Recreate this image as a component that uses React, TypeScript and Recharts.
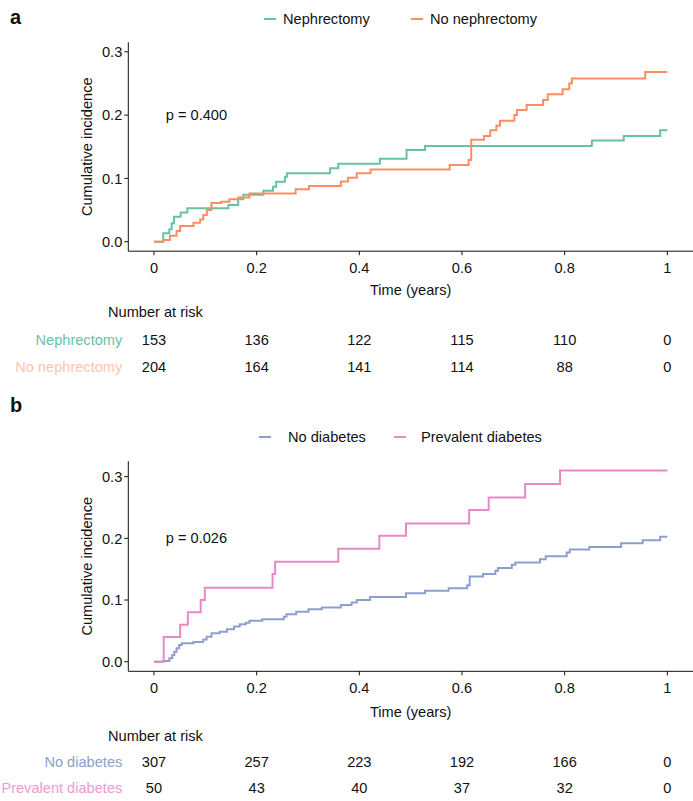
import React from "react";
import { LineChart, Line, XAxis, YAxis, ReferenceDot, ScatterChart, Scatter } from "recharts";

// ---- data ----
const timeTicks = [0, 0.2, 0.4, 0.6, 0.8, 1];
const incidenceTicks = [0, 0.1, 0.2, 0.3];

// [time, cumulative incidence] step points
const nephrectomy = [
  [0, 0], [0.018, 0.0133], [0.03, 0.0196], [0.0345, 0.029], [0.039, 0.0396], [0.052, 0.046],
  [0.065, 0.053], [0.145, 0.058], [0.164, 0.067], [0.174, 0.074], [0.213, 0.0806], [0.232, 0.087],
  [0.238, 0.0948], [0.255, 0.1027], [0.259, 0.108], [0.343, 0.116], [0.359, 0.123], [0.44, 0.131],
  [0.492, 0.145], [0.528, 0.151], [0.853, 0.16], [0.915, 0.167], [0.986, 0.176], [1, 0.176],
];
const noNephrectomy = [
  [0, 0], [0.018, 0.0028], [0.031, 0.0095], [0.044, 0.017], [0.051, 0.025], [0.077, 0.03],
  [0.09, 0.035], [0.096, 0.042], [0.103, 0.05], [0.112, 0.061], [0.131, 0.063], [0.147, 0.067],
  [0.164, 0.07], [0.186, 0.076], [0.276, 0.083], [0.302, 0.088], [0.364, 0.095], [0.378, 0.101],
  [0.395, 0.108], [0.422, 0.114], [0.576, 0.121], [0.613, 0.129], [0.618, 0.161], [0.643, 0.167],
  [0.655, 0.176], [0.667, 0.183], [0.674, 0.191], [0.702, 0.2], [0.707, 0.208], [0.726, 0.216],
  [0.758, 0.224], [0.767, 0.233], [0.796, 0.241], [0.809, 0.25], [0.814, 0.258], [0.957, 0.268],
  [1, 0.268],
];
const noDiabetes = [
  [0, 0], [0.017, 0.001], [0.03, 0.0055], [0.0357, 0.011], [0.0396, 0.016], [0.044, 0.0217],
  [0.049, 0.027], [0.054, 0.03], [0.077, 0.032], [0.096, 0.036], [0.1026, 0.0405], [0.112, 0.046],
  [0.128, 0.0486], [0.142, 0.0525], [0.156, 0.057], [0.167, 0.0606], [0.179, 0.063], [0.186, 0.0665],
  [0.211, 0.069], [0.253, 0.073], [0.258, 0.077], [0.277, 0.081], [0.301, 0.085], [0.327, 0.088],
  [0.364, 0.092], [0.385, 0.096], [0.395, 0.1], [0.421, 0.105], [0.491, 0.111], [0.528, 0.115],
  [0.574, 0.119], [0.61, 0.124], [0.615, 0.138], [0.641, 0.142], [0.665, 0.1475], [0.67, 0.152],
  [0.697, 0.157], [0.704, 0.161], [0.752, 0.166], [0.763, 0.171], [0.804, 0.177], [0.81, 0.182],
  [0.848, 0.186], [0.91, 0.192], [0.952, 0.197], [0.986, 0.2026], [1, 0.2026],
];
const prevalentDiabetes = [
  [0, 0], [0.019, 0.04], [0.051, 0.06], [0.066, 0.08], [0.091, 0.1], [0.099, 0.12],
  [0.231, 0.142], [0.236, 0.162], [0.359, 0.183], [0.439, 0.204], [0.491, 0.224], [0.614, 0.246],
  [0.652, 0.266], [0.723, 0.288], [0.791, 0.31], [1, 0.31],
];

// number at risk
const riskTimes = [0, 0.2, 0.4, 0.6, 0.8, 1];
const riskNephrectomy = [153, 136, 122, 115, 110, 0];
const riskNoNephrectomy = [204, 164, 141, 114, 88, 0];
const riskNoDiabetes = [307, 257, 223, 192, 166, 0];
const riskPrevalentDiabetes = [50, 43, 40, 37, 32, 0];

const pValueA = "p = 0.400";
const pValueB = "p = 0.026";

// ---- styling ----
const FONT = "'Liberation Sans', Arial, Helvetica, sans-serif";
const FS = 14.6;
const GREEN = "#66C2A5";
const ORANGE = "#FC8D62";
const BLUE = "#8DA0CB";
const PINK = "#E78AC3";
const INK = "#111";
const W = 693;
const AXIS_W = 128.3;
const X_DOMAIN: [number, number] = [-0.05, 1.05];

const toPts = (arr: number[][]) => arr.map(([t, v]) => ({ t, v }));

function Legend({ top, items }: { top: number; items: { name: string; color: string; sx: number; tx: number }[] }) {
  return (
    <>
      {items.map((it) => (
        <React.Fragment key={it.name}>
          <div style={{ position: "absolute", left: it.sx, top: top - 1, width: 12, height: 2, background: it.color }} />
          <div style={{ position: "absolute", left: it.tx, top: top - 10, height: 20, lineHeight: "20px", fontSize: FS, color: INK, whiteSpace: "nowrap" }}>
            {it.name}
          </div>
        </React.Fragment>
      ))}
    </>
  );
}

function PanelLabel({ text, top }: { text: string; top: number }) {
  return (
    <div style={{ position: "absolute", left: 10, top: top - 12, height: 24, lineHeight: "24px", fontSize: 20, fontWeight: "bold", color: INK }}>
      {text}
    </div>
  );
}

type Series = { name: string; color: string; pts: number[][] };

function IncidencePlot({
  top, height, marginTop, axisHeight, yDomain, series, pText, titleOffset,
}: {
  top: number; height: number; marginTop: number; axisHeight: number; yDomain: [number, number];
  series: Series[]; pText: string; titleOffset: number;
}) {
  return (
    <div style={{ position: "absolute", left: 0, top }}>
      <LineChart width={W} height={height} margin={{ top: marginTop, right: 0, bottom: 0, left: 0 }}>
        <XAxis
          type="number"
          dataKey="t"
          domain={X_DOMAIN}
          allowDataOverflow
          ticks={timeTicks}
          tickFormatter={(v: number) => String(v)}
          height={axisHeight}
          stroke={INK}
          tick={{ fill: INK, fontSize: FS }}
          tickSize={4}
          tickMargin={7}
          label={{ value: "Time (years)", position: "insideBottom", offset: titleOffset, fill: INK, fontSize: FS }}
        />
        <YAxis
          type="number"
          domain={yDomain}
          allowDataOverflow
          ticks={incidenceTicks}
          tickFormatter={(v: number) => v.toFixed(1)}
          width={AXIS_W}
          stroke={INK}
          tick={{ fill: INK, fontSize: FS }}
          tickSize={4}
          tickMargin={2}
          label={{
            content: (p: any) => {
              const vb = p.viewBox || {};
              const cx = (vb.x || 0) + 87;
              const cy = (vb.y || 0) + (vb.height || 0) / 2;
              return (
                <text x={cx} y={cy} transform={`rotate(-90, ${cx}, ${cy})`} textAnchor="middle" dominantBaseline="central" fill={INK} fontSize={FS}>
                  Cumulative incidence
                </text>
              );
            },
          }}
        />
        {series.map((s) => (
          <Line
            key={s.name}
            data={toPts(s.pts)}
            dataKey="v"
            type="stepAfter"
            stroke={s.color}
            strokeWidth={2}
            dot={false}
            activeDot={false}
            isAnimationActive={false}
          />
        ))}
        <ReferenceDot
          x={0.023}
          y={0.2}
          r={0}
          shape={(p: any) => (
            <text x={p.cx} y={p.cy} dominantBaseline="central" fill={INK} fontSize={FS}>
              {pText}
            </text>
          )}
        />
      </LineChart>
    </div>
  );
}

type Row = { name: string; color: string; counts: number[] };

function RiskTable({ top, titleTop, rowGap, marginTop, rows }: { top: number; titleTop: number; rowGap: number; marginTop: number; rows: Row[] }) {
  const data = rows.flatMap((r, ri) => riskTimes.map((t, i) => ({ t, row: ri, n: r.counts[i] })));
  const plotH = rowGap * rows.length;
  return (
    <>
      <div style={{ position: "absolute", left: 108, top: titleTop - 10, height: 20, lineHeight: "20px", fontSize: FS, color: INK, whiteSpace: "nowrap" }}>
        Number at risk
      </div>
      <div style={{ position: "absolute", left: 0, top }}>
        <ScatterChart width={W} height={marginTop + plotH + 10} margin={{ top: marginTop, right: 0, bottom: 10, left: 0 }}>
          <XAxis type="number" dataKey="t" domain={X_DOMAIN} allowDataOverflow hide />
          <YAxis
            type="number"
            dataKey="row"
            domain={[-0.5, rows.length - 0.5]}
            reversed
            ticks={rows.map((_, i) => i)}
            interval={0}
            width={AXIS_W}
            axisLine={false}
            tickLine={false}
            tickSize={0}
            tickMargin={6}
            tick={(p: any) => {
              const r = rows[p.payload.value];
              return (
                <text x={p.x} y={p.y} textAnchor="end" dominantBaseline="central" fill={r ? r.color : INK} fontSize={FS}>
                  {r ? r.name : ""}
                </text>
              );
            }}
          />
          <Scatter
            data={data}
            isAnimationActive={false}
            shape={(p: any) => (
              <text x={p.cx} y={p.cy} textAnchor="middle" dominantBaseline="central" fill={INK} fontSize={FS}>
                {p.payload.n}
              </text>
            )}
          />
        </ScatterChart>
      </div>
    </>
  );
}

export default function App() {
  return (
    <div style={{ position: "relative", width: W, height: 801, background: "#fff", fontFamily: FONT, overflow: "hidden" }}>
      <style>{"body{margin:0}"}</style>

      {/* panel a */}
      <PanelLabel text="a" top={17} />
      <Legend
        top={19}
        items={[
          { name: "Nephrectomy", color: GREEN, sx: 264, tx: 283 },
          { name: "No nephrectomy", color: ORANGE, sx: 411, tx: 430 },
        ]}
      />
      <IncidencePlot
        top={0}
        height={305}
        marginTop={42.3}
        axisHeight={53.8}
        yDomain={[-0.015, 0.315]}
        titleOffset={10}
        pText={pValueA}
        series={[
          { name: "Nephrectomy", color: GREEN, pts: nephrectomy },
          { name: "No nephrectomy", color: ORANGE, pts: noNephrectomy },
        ]}
      />
      <RiskTable
        top={300}
        titleTop={312}
        rowGap={27}
        marginTop={26.5}
        rows={[
          { name: "Nephrectomy", color: "#66C2A5", counts: riskNephrectomy },
          { name: "No nephrectomy", color: "#FDC4AE", counts: riskNoNephrectomy },
        ]}
      />

      {/* panel b */}
      <PanelLabel text="b" top={405} />
      <Legend
        top={437}
        items={[
          { name: "No diabetes", color: BLUE, sx: 259, tx: 288 },
          { name: "Prevalent diabetes", color: PINK, sx: 394, tx: 421 },
        ]}
      />
      <IncidencePlot
        top={400}
        height={330}
        marginTop={61.2}
        axisHeight={58.7}
        yDomain={[-0.0155, 0.325]}
        titleOffset={13.3}
        pText={pValueB}
        series={[
          { name: "No diabetes", color: BLUE, pts: noDiabetes },
          { name: "Prevalent diabetes", color: PINK, pts: prevalentDiabetes },
        ]}
      />
      <RiskTable
        top={720}
        titleTop={736}
        rowGap={26}
        marginTop={29}
        rows={[
          { name: "No diabetes", color: "#8DA0CB", counts: riskNoDiabetes },
          { name: "Prevalent diabetes", color: "#EE9BCF", counts: riskPrevalentDiabetes },
        ]}
      />
    </div>
  );
}
